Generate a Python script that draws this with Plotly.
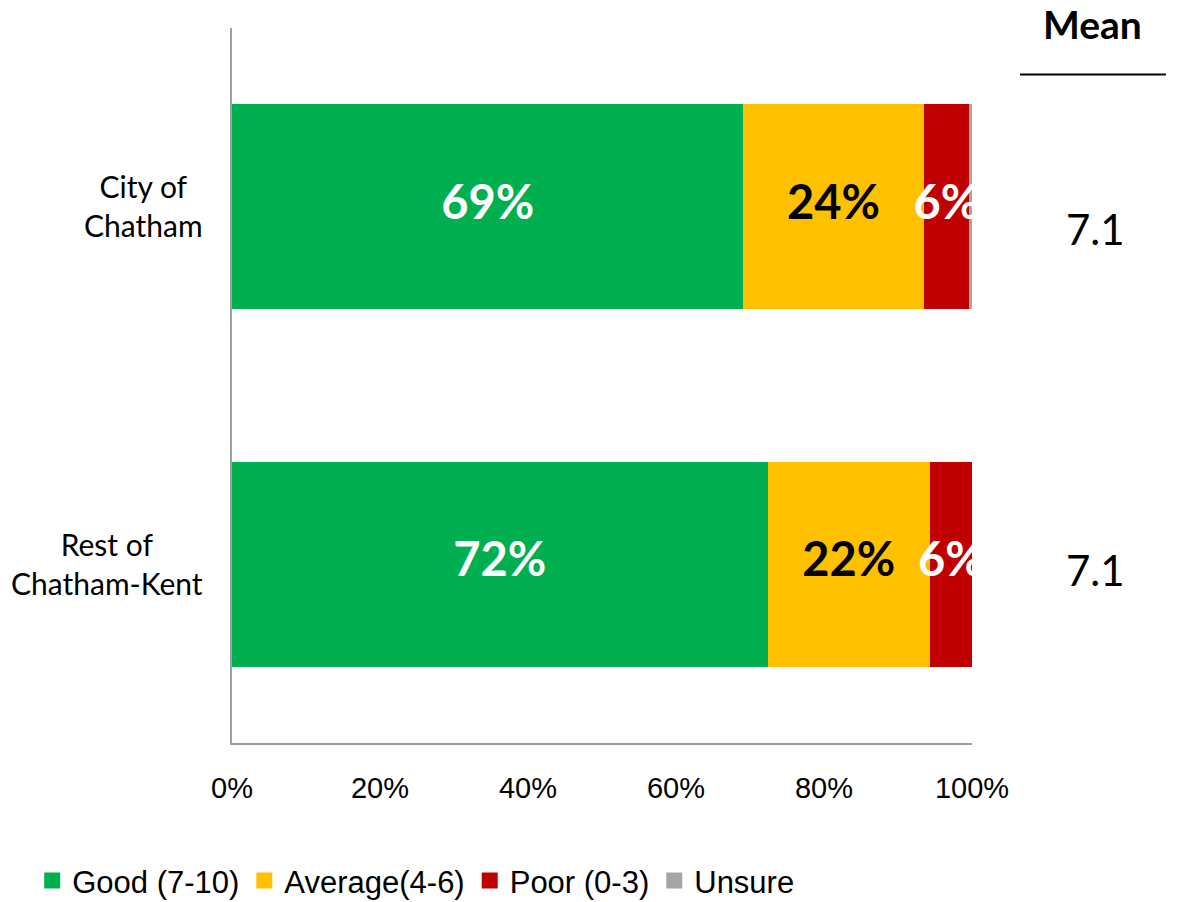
import plotly.graph_objects as go

# Survey ratings by area (percent of respondents)
areas = ["City of<br>Chatham", "Rest of<br>Chatham-Kent"]
good = [69.1, 72.4]
average = [24.4, 21.9]
poor = [6.1, 5.7]
unsure = [0.4, 0.0]
means = ["7.1", "7.1"]

series = [
    ("Good (7-10)", good, "#00B050", "white"),
    ("Average(4-6)", average, "#FFC000", "black"),
    ("Poor (0-3)", poor, "#C00000", "white"),
    ("Unsure", unsure, "#A5A5A5", None),
]

cats = [a.replace("<br>", " ") for a in areas]

fig = go.Figure()
for name, vals, color, _ in series:
    fig.add_trace(go.Bar(
        y=cats, x=vals, name=name, orientation="h",
        marker=dict(color=color, line=dict(width=0)),
        hoverinfo="skip", showlegend=False,
    ))

# Legend entries with larger square swatches
for name, vals, color, _ in series:
    fig.add_trace(go.Scatter(
        x=[None], y=[None], mode="markers", name=name,
        marker=dict(symbol="square", size=17, color=color),
    ))

# Segment value labels, clipped to the plot area
offset = [0.0 for _ in cats]
for name, vals, color, tcolor in series:
    mids = [o + v / 2 for o, v in zip(offset, vals)]
    if tcolor is not None:
        fig.add_trace(go.Scatter(
            x=mids, y=cats, mode="text",
            text=[f"{v:.0f}%" for v in vals],
            textfont=dict(family="Lato, Open Sans, sans-serif", size=47,
                          color=tcolor, weight="bold"),
            textposition="middle center",
            cliponaxis=True, showlegend=False, hoverinfo="skip",
        ))
    offset = [o + v for o, v in zip(offset, vals)]

# Category labels (centered lines, right edge near the axis)
for cat, label in zip(cats, areas):
    fig.add_annotation(
        x=-0.036, xref="paper", y=cat, yref="y", text=label,
        xanchor="right", align="center", showarrow=False, yshift=1,
        font=dict(family="Lato, sans-serif", size=30, color="black"),
    )

# Mean column
fig.add_annotation(
    x=1.163, xref="paper", y=1.005, yref="paper", text="<b>Mean</b>",
    xanchor="center", yanchor="middle", showarrow=False,
    font=dict(family="Lato, sans-serif", size=39, color="black"),
)
fig.add_shape(type="line", xref="paper", yref="paper",
              x0=1.065, x1=1.262, y0=0.935, y1=0.935,
              line=dict(color="black", width=2))
for cat, m, ys in zip(cats, means, [-22, -6]):
    fig.add_annotation(
        x=1.1665, xref="paper", y=cat, yref="y", text=m,
        xanchor="center", showarrow=False, yshift=ys,
        font=dict(family="Lato, sans-serif", size=42, color="black"),
    )

fig.update_layout(
    barmode="stack",
    bargap=0.427,
    width=1178, height=902,
    margin=dict(l=232, r=206, t=28, b=159, autoexpand=False),
    paper_bgcolor="white", plot_bgcolor="white",
    xaxis=dict(
        range=[0, 100], tickvals=[0, 20, 40, 60, 80, 100],
        ticktext=["0%", "20%", "40%", "60%", "80%", "100%"],
        showgrid=False, zeroline=False, showline=True,
        linecolor="#A0A0A0", linewidth=2, ticks="",
        tickfont=dict(family="Liberation Sans, Arial, sans-serif", size=29, color="black"),
        ticklabelstandoff=18,
    ),
    yaxis=dict(
        categoryorder="array", categoryarray=cats[::-1],
        showticklabels=False, showgrid=False, zeroline=False,
        showline=True, linecolor="#A0A0A0", linewidth=2, ticks="",
    ),
    legend=dict(
        orientation="h", x=-0.27, xanchor="left", y=-0.155, yanchor="top",
        traceorder="normal",
        font=dict(family="Liberation Sans, Arial, sans-serif", size=31, color="black"),
    ),
)

fig.write_html("out.html")
